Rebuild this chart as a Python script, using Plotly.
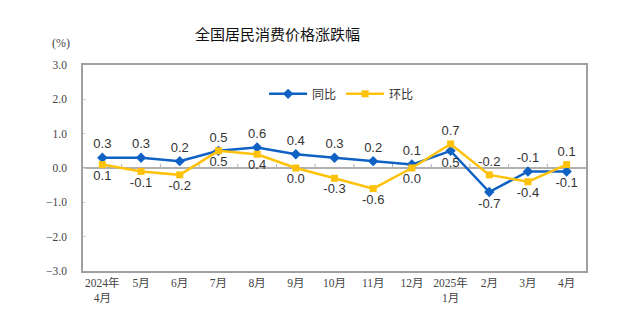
import plotly.graph_objects as go

categories = ["2024年<br>4月", "5月", "6月", "7月", "8月", "9月", "10月", "11月", "12月",
              "2025年<br>1月", "2月", "3月", "4月"]
yoy = [0.3, 0.3, 0.2, 0.5, 0.6, 0.4, 0.3, 0.2, 0.1, 0.5, -0.7, -0.1, -0.1]
mom = [0.1, -0.1, -0.2, 0.5, 0.4, 0.0, -0.3, -0.6, 0.0, 0.7, -0.2, -0.4, 0.1]
ytick_vals = [-3, -2, -1, 0, 1, 2, 3]

BLUE = "#0F62C4"
YELLOW = "#FFC20A"
x = list(range(len(categories)))

yoy_pos, mom_pos = [], []
for a, b in zip(yoy, mom):
    if a >= b:
        yoy_pos.append("top center"); mom_pos.append("bottom center")
    else:
        yoy_pos.append("bottom center"); mom_pos.append("top center")

label_font = dict(family="Liberation Sans, Arial", size=13, color="#333333")

fig = go.Figure()
fig.add_trace(go.Scatter(
    x=x, y=yoy, name="同比", mode="lines+markers+text",
    line=dict(color=BLUE, width=2.5),
    marker=dict(symbol="diamond", size=8, color=BLUE),
    text=[f"{v:.1f}" for v in yoy], textposition=yoy_pos, textfont=label_font,
    cliponaxis=False,
))
fig.add_trace(go.Scatter(
    x=x, y=mom, name="环比", mode="lines+markers+text",
    line=dict(color=YELLOW, width=2.5),
    marker=dict(symbol="square", size=7, color=YELLOW),
    text=[f"{v:.1f}" for v in mom], textposition=mom_pos, textfont=label_font,
    cliponaxis=False,
))

# small tick marks on the zero line at category boundaries
for i in range(len(categories) - 1):
    fig.add_shape(type="line", x0=i + 0.5, x1=i + 0.5, y0=0, y1=0.12,
                  line=dict(color="#B0B0B0", width=1), layer="below")

tick_font = dict(family="Liberation Serif, Noto Sans CJK SC", size=11.5, color="#444444")

W, H = 640, 336
l, r, t, b = 83, 54, 65, 65
pw, ph = W - l - r, H - t - b


def px_to_paper(px, py):
    return (px - l) / pw, (H - b - py) / ph


tx, ty = px_to_paper(277, 33)
ux, uy = px_to_paper(61, 43)

fig.update_layout(
    width=W, height=H,
    margin=dict(l=l, r=r, t=t, b=b),
    paper_bgcolor="white", plot_bgcolor="white",
    showlegend=True,
    legend=dict(orientation="h", x=0.36, y=0.86, xanchor="left", yanchor="middle",
                bgcolor="rgba(0,0,0,0)",
                font=dict(family="Noto Sans CJK SC", size=12, color="#333333"),
                itemwidth=38),
    annotations=[
        dict(text="全国居民消费价格涨跌幅", x=tx, y=ty, xref="paper", yref="paper",
             xanchor="center", yanchor="middle", showarrow=False,
             font=dict(family="Noto Sans CJK SC", size=15, color="#111111")),
        dict(text="(%)", x=ux, y=uy, xref="paper", yref="paper",
             xanchor="center", yanchor="middle", showarrow=False,
             font=dict(family="Liberation Serif", size=12, color="#444444")),
    ],
    xaxis=dict(
        tickmode="array", tickvals=x, ticktext=categories,
        range=[-0.5, len(categories) - 0.5],
        showgrid=False, zeroline=False,
        showline=True, linecolor="#A0A0A0", linewidth=1.5, mirror=True,
        ticks="", tickfont=tick_font,
    ),
    yaxis=dict(
        range=[-3, 3], tickvals=ytick_vals, tickformat=".1f",
        showgrid=False, zeroline=True, zerolinecolor="#B0B0B0", zerolinewidth=1.5,
        showline=True, linecolor="#A0A0A0", linewidth=1.5, mirror=True,
        ticks="inside", ticklen=3, tickcolor="#D0D0D0",
        ticklabelstandoff=12, tickfont=tick_font,
    ),
)

fig.write_html("out.html")
